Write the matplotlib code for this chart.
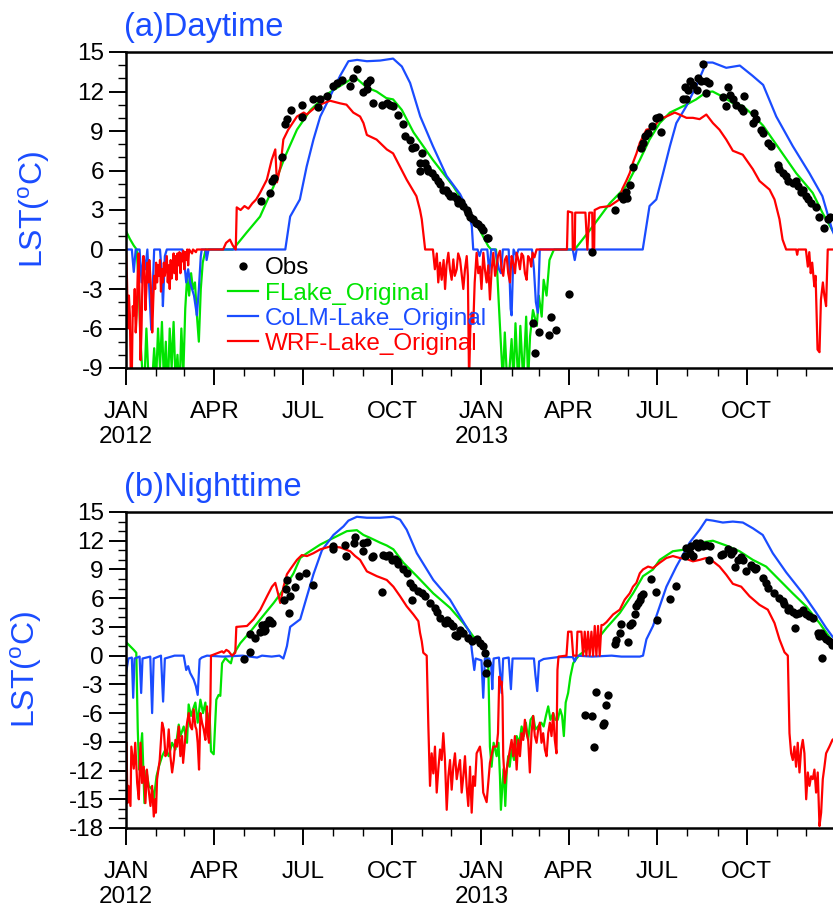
import numpy as np
import matplotlib
matplotlib.use("Agg")
import matplotlib.pyplot as plt
from matplotlib.lines import Line2D

# ---- data: (day since 2012-01-01, LST in degC) ----

# (a) daytime
flake_day = [(0, 1.4), (4, 0.8), (8, 0.3), (11, 0), (13, -2.5), (15, -7), (17, -9.5), (19, -10), (21, -6),
             (23, -9.5), (25, -11), (27, -10), (29, -7.5), (31, -10), (33, -6), (35, -9), (37, -5.5), (39, -10),
             (41, -7), (43, -11), (45, -6), (47, -9), (49, -5.5), (51, -10), (53, -8), (55, -11), (57, -6),
             (59, -9.5), (61, -4.5), (63, -2), (65, -3.5), (67, -1.8), (69, -3), (71, -2.5), (73, -5), (75, -7),
             (77, -3), (79, -1), (82, 0), (110, 0), (124, 1.27), (138, 2.5), (152, 4.8), (164, 7.1), (176, 9.1),
             (190, 10.6), (207, 11.8), (220, 12.4), (231, 12.9), (238, 12.95), (248, 12.3), (258, 12.0),
             (268, 11.5), (275, 11.4), (284, 10.6), (296, 8.9), (316, 6.8), (337, 4.8), (354, 2.8), (364, 1.5),
             (373, 0.25), (376, 0), (381, 0), (385, -5.8), (388, -10), (390, -6.3), (393, -11), (397, -6.8),
             (399, -10), (401, -5.6), (404, -10.5), (406, -5.8), (409, -10), (412, -5.1), (414, -10), (416, -6.6),
             (419, -4.6), (423, -5.8), (425, -3.5), (428, -5.1), (430, -2.3), (433, -3.5), (436, -0.8), (440, -0.1),
             (441, 0), (462, 0), (481, 1.8), (498, 3.5), (515, 4.8), (529, 6.8), (539, 8.35), (549.5, 9.6),
             (560, 10.4), (577, 11.0), (587, 11.4), (597.5, 11.95), (604, 12.0), (614.5, 11.6), (625, 11.1),
             (635, 10.9), (645, 10.25), (656, 9.4), (673, 7.6), (690, 5.8), (707, 4.3), (717, 2.8), (727, 1.5),
             (731, 1.1)]

colm_day = [(0, 0), (6, 0), (8, -1.7), (10, 0), (14, 0), (16, -2.5), (18, -0.5), (20, -1.5), (22, 0), (24, -3),
            (26, -6.1), (27, -4), (29, 0), (35, 0), (37, -2), (38, -4.3), (40, -0.5), (42, 0), (58, 0), (60, -1),
            (62, -2.5), (64, -1.5), (66, -2.5), (68, -3), (70, -3.5), (72, -4.5), (73, -5), (75, -3), (77, -0.5),
            (78, 0), (82, 0), (83, -0.8), (85, 0), (164, 0), (169, 2.5), (179, 3.8), (186, 6.3), (193, 8.35),
            (200, 10.1), (210, 11.6), (220.5, 13.2), (229, 14.3), (238, 14.4), (248, 14.3), (261.6, 14.35),
            (275, 14.5), (284, 13.9), (292.5, 12.65), (303, 10.1), (316, 7.85), (330, 5.6), (344, 4.2), (352, 3.0),
            (356, 1.8), (357.5, 0), (362, 0), (364, -0.5), (366, 0), (372, 0), (374, -1.8), (376, 0), (380, 0),
            (384, -1.5), (386, -1.8), (388, 0), (394, 0), (396, -4.5), (397, -5), (399, 0), (402, -0.5), (404, 0),
            (418, 0), (420, -1.5), (422, -4), (424, -4.8), (426, 0), (460, 0), (462, -0.8), (464, 0), (532, 0),
            (539, 3.3), (546, 3.8), (553, 5.8), (560, 7.85), (566.6, 9.6), (577, 10.9), (587, 12.4), (597.5, 14.2),
            (604, 14.2), (618, 13.8), (632, 13.97), (645, 13.2), (656, 12.5), (669.5, 10.1), (686.5, 7.85),
            (703.6, 5.8), (717, 4.05), (727, 1.5), (731, 0.8)]

wrf_day = [(0, 0), (1, -2.3), (2, -6), (3, -3.5), (4, -5), (5, -10), (6, -9.5), (7, -4.3), (8, -5), (9, -3),
           (10, -6.3), (11, -5), (12, -2), (13, -0.3), (14, -4), (15, -8.4), (16, -6), (17, -2), (18, -0.5),
           (19, -1.5), (20, -4.6), (21, -3), (22, -1), (23, -2.5), (24, -0.8), (25, -2), (26, -3.5), (27, -6.3),
           (28, -4), (29, -2), (30, -3), (31, -1), (32, -2.5), (33, -1.2), (34, -2), (35, -0.8), (36, -3.2),
           (37, -1.5), (38, -2.5), (39, -1), (40, -2), (42, -0.5), (43, -2.5), (44, -1.2), (45, -3), (46, -0.8),
           (47, -2.2), (48, -1.5), (49, -0.3), (50, -1.8), (51, -0.5), (52, -2.3), (53, -0.3), (54, -1.2),
           (55, -0.2), (56, -1.8), (57, -0.3), (58, -0.9), (59, -0.1), (60, -1.5), (61, -0.2), (62, -0.8), (63, 0),
           (64, -1.2), (65, 0), (68, -0.3), (69, 0), (72, -0.2), (73, 0), (100, 0), (103, 0.5), (107, 0.75),
           (110, 0.3), (113, 0), (114, 3.2), (118, 3.0), (122, 3.3), (126, 3.1), (130, 3.5), (134, 3.8), (138, 4.3),
           (145, 5.3), (150, 6.8), (153.7, 7.6), (155.4, 5.1), (159, 6.3), (162, 8.35), (167, 9.1), (176, 10.1),
           (183, 10.4), (186, 10.25), (196.5, 10.9), (203, 11.1), (210, 11.3), (220.5, 11.1), (227, 11.0),
           (234, 10.4), (241, 10.1), (244.5, 9.6), (248, 8.7), (258, 8.35), (268.5, 7.6), (275, 7.3), (282, 6.3),
           (289, 5.3), (299, 4.05), (302.7, 3.0), (304.5, 2.3), (306, 1.3), (308, 0), (316, 0), (318, -1.5),
           (320, -0.3), (321.5, -2.5), (323.3, -1.0), (325, -2.3), (327, -0.8), (328.5, -3.0), (330, -1.2),
           (331.9, -0.25), (333.5, -1.5), (335.3, -2.3), (337, -0.75), (338.5, -2.0), (340.5, -1.5), (342, -0.3),
           (343.9, -0.75), (345.5, -1.8), (347.3, -3.0), (349, -1.5), (350.8, -0.5), (352, -2), (353.2, -10),
           (354.5, -6), (355.9, -4.8), (357.6, -5.6), (359, -2.5), (361, -0.25), (362.7, -1.8), (364.5, -1.3),
           (366, -3), (367.9, -0.25), (369.5, -1.5), (371.3, -2.5), (373, -1.2), (374.7, -3.8), (376.5, -1.5),
           (378.2, -0.25), (380, -2), (381.6, -1.3), (383, -0.5), (385, -0.1), (386.7, -1.5), (388.4, -2.0),
           (390, -0.8), (391.9, -0.5), (393.5, -1.8), (395.3, -2.5), (397, -0.5), (398.7, -1.0), (400.5, -1.8),
           (402.2, -0.25), (404, -0.8), (405.6, -1.5), (407.3, -0.3), (409, -0.5), (410.7, -1.8), (412.5, -2.3),
           (414, -0.5), (415.9, -0.75), (417.2, -1.3), (418.6, -0.25), (420.5, -0.6), (422.7, 0), (454, 0),
           (455, 2.9), (459.5, 2.8), (460, 0), (462, 0), (462.5, 2.8), (473, 2.8), (475, 0), (477, 2.8), (480, 2.8),
           (480.5, 0), (482, 0), (482.5, 3.0), (488, 3.2), (498, 3.3), (508, 3.8), (511, 4.6), (515, 5.2),
           (518.6, 5.8), (522, 6.6), (525.6, 7.3), (529, 8.1), (535.8, 9.1), (542.6, 9.2), (549.5, 9.9),
           (556.4, 10.1), (565, 10.4), (569.8, 10.25), (577, 10.0), (583.7, 10.0), (590.6, 9.9), (597.5, 10.25),
           (604.3, 9.6), (611, 9.1), (618, 8.35), (624.8, 7.5), (635, 7.2), (645.4, 6.1), (652.3, 5.2),
           (662.6, 4.55), (667.7, 3.8), (672.8, 2.3), (676, 0.75), (679.7, 0), (690, 0), (691, -0.4), (692, 0),
           (700, 0), (702, -1.3), (703.5, -0.2), (705, -1.8), (706.5, -1.0), (708.7, -2.8), (710, -2.0),
           (712, -7.6), (714, -7.8), (715.5, -3.8), (717.5, -2.5), (719, -3.5), (720.8, -4.3), (722.5, 0), (731, 0)]

obs_day = [(139, 3.7), (148.5, 4.3), (150, 5.2), (152, 5.4), (160.5, 7.0), (164, 9.5), (165.7, 9.9), (169.8, 10.6),
           (181, 11.0), (181, 10.1), (193, 11.4), (198, 10.8), (200, 11.4), (207, 11.65), (213.6, 12.4),
           (217, 12.65), (222.3, 12.9), (230.8, 12.4), (234.2, 13.0), (237.7, 13.7), (244.5, 12.0), (248, 12.2),
           (248, 12.65), (251.3, 12.9), (254.7, 11.1), (263.3, 11.0), (268.5, 11.1), (272, 11.0), (275.3, 10.9),
           (280.5, 10.25), (285, 9.5), (287.3, 8.6), (292.5, 8.35), (294.2, 7.7), (297.6, 7.8), (302.7, 6.6),
           (304.5, 7.3), (302.7, 5.95), (308, 6.6), (309.6, 6.2), (311, 6.0), (314.7, 5.8), (318, 5.5),
           (321.6, 5.2), (323.3, 5.0), (326.7, 4.55), (329, 4.5), (331.8, 4.3), (334, 4.1), (337, 4.05),
           (340.5, 3.8), (342.2, 3.5), (345, 3.6), (347.3, 3.3), (350.7, 3.0), (352, 2.8), (354.2, 2.5),
           (357.6, 2.3), (360, 2.0), (362.7, 1.9), (365, 1.7), (367.8, 1.5), (371.3, 0.9), (373, 0.9),
           (418.6, -5.6), (421.3, -7.85), (425, -6.3), (435.4, -6.5), (437.4, -5.1), (442.5, -6.1), (456, -3.4),
           (480, -0.2), (503.2, 3.0), (510, 4.05), (511.8, 3.8), (516.2, 3.9), (515.3, 4.4), (518.6, 4.9),
           (522, 6.3), (530.6, 7.7), (532.3, 8.1), (534, 8.6), (537.5, 8.85), (542, 9.4), (546, 10.0), (549, 10.1),
           (551.2, 8.9), (573.4, 11.4), (576.8, 11.4), (576, 12.35), (578.5, 12.1), (580.3, 12.8), (583.7, 12.5),
           (587.8, 12.15), (588.8, 13.0), (592.2, 12.8), (593.9, 14.1), (597.3, 12.8), (600.7, 12.65),
           (597.3, 11.9), (614.5, 11.6), (618, 10.9), (619.7, 12.35), (621.4, 11.75), (624.8, 11.4), (628.3, 11.0),
           (633.4, 10.75), (635.1, 10.5), (635.8, 11.65), (647, 10.4), (645.4, 9.6), (648.8, 9.9), (653.9, 9.1),
           (655.6, 8.85), (660.7, 8.1), (664, 7.85), (671, 6.45), (672.8, 6.1), (676.2, 5.8), (679.6, 5.6),
           (681.3, 5.2), (686.5, 5.05), (689.9, 5.2), (691.6, 4.8), (695, 4.4), (696.7, 4.55), (700.2, 4.05),
           (701.9, 3.8), (705.3, 3.5), (710.4, 3.2), (713.8, 2.5), (719, 1.65), (722.5, 2.3), (724.9, 2.5)]

# (b) nighttime
flake_night = [(0, 1.4), (1.2, 1.3), (8, 0.6), (10.6, 0.3), (12.1, -7.7), (13.5, -11.9), (16.6, -8.1),
               (19, -15.4), (21, -12), (23.5, -13.6), (27, -14), (28.6, -15), (31.4, -12.6), (33.8, -11.6),
               (37.2, -10.5), (40.6, -9.8), (44, -10.5), (47.4, -9.1), (50.9, -9.8), (54.3, -7.2), (56, -8.4),
               (59.4, -7.4), (62.8, -9.1), (64.5, -5.1), (66.9, -6.3), (69, -5.6), (71.4, -4.9), (73.8, -7.0),
               (76.6, -4.6), (79.3, -6.0), (81.7, -4.9), (84, -7.4), (86, -6.0), (87.5, -10), (90.3, -10.3),
               (92, -6.7), (93, -4.6), (95.4, -4.1), (97.1, -4.2), (98.9, -0.8), (102.3, -0.25), (105.7, -0.6),
               (108, -0.8), (109.8, 0), (117.7, 1.3), (128, 2.5), (138.3, 3.8), (152, 5.5), (162.2, 6.9),
               (172.5, 8.6), (179.4, 10.2), (186.3, 10.7), (200, 11.6), (213.6, 12.3), (227.4, 13.0),
               (237.7, 13.1), (244.5, 12.6), (251.3, 12.3), (261.6, 11.8), (268.5, 11.5), (275.3, 11.1),
               (285.6, 9.7), (299.4, 8.3), (316.4, 6.5), (333.6, 5.0), (347.3, 3.4), (357.6, 2.0), (367.8, 1.0),
               (371.3, 0.35), (373, -1.1), (374.7, -9.5), (376.4, -11.6), (378.5, -9.1), (381.6, -10.5),
               (383.5, -9.1), (385, -12.6), (386, -16.1), (387.7, -13.3), (389, -11.8), (390.5, -15.7), (392, -12),
               (393.5, -10.5), (395, -11.6), (397, -9.8), (399.5, -10.9), (402.2, -8.4), (405, -9.1),
               (407.3, -7.4), (409.5, -8.4), (411.7, -7.0), (414, -8.8), (416.5, -6.7), (419.2, -6.3),
               (421.5, -7.7), (424.3, -7.4), (427.5, -7.0), (430, -7.4), (432.3, -6.3), (434.7, -5.3), (437, -6.7),
               (439.8, -6.0), (442, -6.7), (444.5, -6.7), (447, -5.6), (449, -6.3), (450.8, -8.4), (452.7, -4.9),
               (455.2, -3.9), (457.5, -2.2), (460.4, -0.8), (463.8, -0.3), (467.2, 0.1), (481, 1.15),
               (494.7, 2.9), (508.4, 4.45), (522, 6.5), (532.3, 8.3), (542.6, 9.0), (549.5, 10.0), (563, 10.9),
               (577, 11.1), (590.6, 11.8), (604.3, 12.0), (618, 11.5), (631.7, 10.9), (645.4, 10.0), (659.1, 9.3),
               (672.8, 7.9), (686.5, 6.5), (700.3, 5.15), (714, 3.4), (727.3, 1.5), (731, 1.0)]

colm_night = [(0, -1.8), (2.5, -0.3), (6, -0.2), (7.4, -4.4), (8.8, -0.3), (14, -0.1), (15.6, -3.9), (17, -0.3),
              (25, -0.1), (26.9, -6.0), (28.5, -0.3), (36, 0), (38.2, -4.8), (40, -0.3), (50, 0), (59.4, 0),
              (62, -1.5), (64, -1.1), (66, -1.8), (69.7, -2.5), (72, -3.2), (73.8, -4.1), (75.8, -0.4), (78, -0.2),
              (83.4, 0), (100, -0.1), (120, 0), (135, -0.2), (140, 0), (150, -0.1), (158, 0), (162, -0.3),
              (163.5, 0.2), (165.7, 1.0), (169, 3.0), (179.4, 3.8), (186.3, 6.2), (193, 8.5), (201.7, 11.0),
              (213.6, 12.6), (223.9, 13.5), (229, 14.1), (237.7, 14.5), (248, 14.4), (261.6, 14.4), (275.3, 14.5),
              (282.2, 14.2), (289, 13.15), (299.4, 10.7), (316.4, 7.9), (333.6, 5.85), (343.9, 4.1), (354.2, 2.4),
              (356, 0.6), (358.6, -1.5), (360, -0.3), (366, -0.5), (367.8, -4.4), (369.5, -0.3), (374, -0.3),
              (376, -1), (377.1, -3.5), (378.5, -0.3), (384, -0.2), (386.7, -3.9), (388.3, -0.3), (394, -0.2),
              (396.3, -3.5), (398, -0.3), (420, -0.3), (421.5, -2.0), (423.4, -3.7), (425.3, -0.6), (430, -0.35),
              (445, -0.15), (460, -0.15), (462, -0.6), (464, 0), (480, -0.1), (500, 0), (510, -0.1), (529, -0.1),
              (532.3, 0), (535.8, 1.7), (542.6, 3.1), (549.5, 5.15), (556.4, 7.2), (566.6, 9.3), (580.3, 11.8),
              (590.6, 13.15), (597.5, 14.2), (604.3, 14.1), (614.5, 13.9), (624.8, 14.0), (635.1, 13.9),
              (645.4, 13.3), (655.6, 12.6), (665.9, 10.7), (679.7, 8.7), (696.8, 6.5), (710.5, 4.5), (720.8, 2.9),
              (727.3, 2.0), (731, 1.6)]

wrf_night = [(0.5, -9.1), (1.5, -15.4), (2.5, -13.6), (4.6, -15.7), (5.5, -9.5), (8, -11.8), (9.5, -9.1),
             (11.5, -13.3), (13.2, -15.0), (14.9, -9.1), (16.5, -13.3), (18.3, -11.6), (20, -15.4), (21.5, -11.9),
             (23.3, -14), (25.2, -15.7), (26.9, -13.6), (28.6, -16.8), (30, -15), (30.8, -16.4), (32, -12.9),
             (34.7, -10.9), (37.2, -7.0), (38.9, -7.7), (40.6, -10.5), (42.3, -10.2), (44, -7.7), (45.7, -10.5),
             (47.5, -12.2), (49.2, -10.9), (50.9, -8.8), (52.6, -9.5), (54.3, -7.4), (56, -10.5), (57.7, -8.4),
             (58.8, -11.2), (61.2, -8.4), (62.9, -7.0), (64.6, -6.0), (66.3, -7.4), (68, -7.7), (69.7, -5.6),
             (71.4, -7.4), (72.5, -7.7), (73.8, -9.1), (75.2, -11.9), (76.6, -6.0), (78.3, -7.0), (80, -7.7),
             (81.7, -8.8), (83.4, -5.3), (84.5, -8.4), (85.5, -9.1), (86.9, -4.9), (87.5, 0), (98.9, 0.45),
             (100.6, 0.3), (103.3, 0.6), (105.7, 0.45), (109.1, 0), (112.5, 0.3), (113.6, 3.0), (124.6, 3.1),
             (131.4, 3.8), (138.3, 4.8), (145.2, 6.2), (150.3, 7.2), (153.7, 7.6), (156.5, 6.5), (158.8, 5.5),
             (162.2, 7.2), (165.7, 8.5), (169, 9.0), (176, 10.0), (181, 10.5), (186.3, 10.4), (193, 10.7),
             (200, 11.1), (210.2, 11.4), (220.5, 11.3), (230.8, 10.9), (235.9, 10.4), (241, 10.0), (248, 8.8),
             (258.2, 8.3), (268.5, 7.9), (275.3, 7.2), (282.2, 6.2), (289, 5.15), (295.9, 4.3), (301, 3.6),
             (302.7, 2.4), (304.5, 1.5), (306.1, 0.3), (309.6, 0), (311.3, -7.4), (313, -13.6), (314.7, -10.2),
             (316.4, -12.3), (318.1, -9.5), (319.9, -14.3), (321.6, -11.8), (323.3, -9.8), (325, -10.9),
             (326.7, -8.1), (328.4, -10.9), (330.2, -16.1), (331.9, -12.6), (333.6, -10.9), (335.3, -14.0),
             (337, -11.6), (338.7, -10.2), (340.5, -12.9), (342.2, -11.8), (343.9, -10.9), (345.6, -14.3),
             (347.3, -12.6), (349, -10.5), (350.7, -13.6), (352.4, -15.7), (354.2, -11.6), (355.9, -16.4),
             (357.6, -12.6), (359.3, -13.6), (361, -10.2), (364.4, -9.5), (366.1, -10.9), (367.8, -14.3),
             (371.3, -15.3), (374.7, -11.2), (378.2, -9.5), (381.6, -9.5), (383, -8.1), (384.3, -2.2),
             (385.5, -3.0), (386.7, -2.7), (387.6, -4.3), (388.4, -10.5), (390, -13.3), (391.9, -11.9),
             (393.5, -10.9), (395.3, -9.8), (397, -8.8), (398.7, -10.5), (400.4, -8.4), (402.2, -11.9),
             (403.9, -8.8), (405.6, -10.5), (407.3, -8.1), (409, -8.8), (410.7, -6.7), (412.4, -8.1),
             (414.1, -8.8), (415.8, -12.2), (417.5, -8.1), (419.2, -6.3), (420.9, -8.4), (422.7, -9.1),
             (424.4, -7.7), (426.1, -7.0), (427.8, -9.1), (429.5, -8.1), (431.3, -9.8), (433, -10.5),
             (434.7, -8.1), (436.4, -7.0), (438.1, -8.4), (439.8, -6.0), (441.5, -8.8), (443.2, -10.2),
             (444.2, -1.5), (445.3, -0.1), (453.5, 0), (455.2, 2.5), (458.6, 2.5), (460.4, 0), (463.8, 0),
             (464.8, 2.5), (468.9, 2.5), (470.6, 0), (472.3, 2.5), (474, 0), (475.7, 2.5), (477.4, 0),
             (479.2, 2.5), (480.9, 0), (482.6, 3.1), (484.3, 0), (486, 3.1), (487.7, 0), (489.5, 3.2),
             (491.2, 3.2), (494.7, 3.5), (501.5, 4.3), (508.4, 4.8), (513.5, 5.85), (518.6, 6.5), (522, 7.2),
             (525.5, 7.6), (529, 8.6), (532.3, 9.0), (537.5, 9.3), (542.6, 9.15), (549.5, 9.7), (556.4, 10.2),
             (563.1, 10.4), (570, 10.2), (577, 10.1), (583.7, 9.85), (590.6, 10.0), (597.5, 10.2), (604.3, 9.85),
             (611.1, 9.3), (618, 8.45), (624.8, 7.5), (633.4, 7.2), (642, 6.2), (652.3, 5.3), (660.8, 4.8),
             (667.7, 3.4), (672.8, 1.7), (678, 0.35), (681.4, 0), (683.1, -8.1), (684.8, -10.2), (686.5, -10.9),
             (688.2, -9.5), (689.9, -11.6), (691.6, -9.1), (693.4, -12.2), (695.1, -9.8), (696.8, -8.8),
             (698.5, -10.2), (700.3, -15.0), (702, -12.2), (703.7, -13.6), (705.4, -12.6), (707.1, -12.9),
             (708.8, -11.9), (710.5, -14.3), (712.2, -12.2), (714, -17.8), (715.7, -16.4), (717.4, -12.9),
             (719.1, -11.6), (720.8, -10.2), (724.2, -9.5), (727.3, -8.8), (731, -8.5)]

obs_night = [(121, -0.35), (127.5, 0.35), (128, 2.3), (133, 1.85), (137.5, 2.5), (140, 3.2), (143, 2.7),
             (144.5, 3.3), (146.8, 3.75), (148.5, 3.6), (150, 3.4), (142, 2.6), (163, 5.85), (165, 7.0),
             (166, 7.9), (167.4, 4.5), (169.1, 6.2), (174.2, 7.2), (178.4, 8.3), (185.2, 8.6), (192.4, 7.4),
             (213.6, 11.1), (213.6, 11.4), (226.7, 10.4), (225, 11.6), (235.9, 12.35), (234.9, 11.8),
             (244.5, 10.9), (244.5, 11.8), (248, 11.9), (253, 10.3), (254.7, 10.4), (263.3, 6.6), (265, 10.5),
             (267.7, 10.4), (271.2, 10.5), (273.5, 10.0), (277, 10.1), (278.8, 9.85), (280.5, 9.6), (285.6, 9.0),
             (289, 8.6), (292.5, 7.6), (296, 7.2), (294.2, 5.85), (301, 6.7), (304.5, 6.5), (307.9, 6.2),
             (313, 5.5), (318, 5.0), (319.9, 4.6), (323.3, 3.9), (328.4, 3.4), (330, 3.7), (333.6, 3.4),
             (337, 3.1), (338.7, 2.2), (340.5, 2.0), (343.9, 2.7), (347.3, 2.4), (352.4, 1.85), (355.9, 1.5),
             (361, 1.7), (364.4, 1.3), (367.8, 1.0), (369.6, 0.3), (371.3, -0.75), (370.5, -1.8),
             (472.4, -6.2), (479.3, -6.3), (481.6, -9.5), (484.4, -3.8), (491.2, -7.2), (492.2, -7.0),
             (494.7, -5.2), (496.3, -4.1), (503.2, 1.2), (505, 1.6), (508.4, 2.4), (510, 3.3), (516.9, 1.4),
             (519.3, 3.2), (520.5, 3.4), (523.8, 4.3), (525.5, 5.15), (527.2, 5.5), (529, 5.85), (530.6, 6.2),
             (532.3, 6.4), (541, 8.0), (545.3, 6.6), (546.7, 3.7), (559.8, 5.95), (566.6, 7.3), (575.2, 10.4),
             (576.8, 11.2), (580.3, 10.7), (582, 11.4), (583.7, 10.4), (587.2, 11.8), (588.8, 11.3),
             (590.6, 11.8), (594, 11.4), (597.5, 11.6), (600.2, 10.0), (601.5, 11.5), (612.8, 10.5),
             (614.5, 10.6), (619.7, 11.1), (623, 10.6), (624.8, 10.9), (626.6, 9.25), (630, 10.0), (633.4, 10.3),
             (635.1, 10.0), (638.6, 8.8), (643.7, 9.5), (645.4, 9.3), (647.1, 9.0), (648.8, 9.15), (655.6, 8.1),
             (659.1, 7.6), (660.8, 7.1), (666.7, 6.5), (672.8, 6.0), (676.2, 5.7), (677.9, 5.4), (681.4, 4.8),
             (683.1, 4.95), (686.5, 4.6), (688.3, 2.9), (689.9, 4.3), (693.4, 4.45), (696.8, 4.8), (700.3, 4.3),
             (703.7, 4.1), (707.1, 3.9), (712.2, 2.4), (713.9, 2.0), (715.6, 2.4), (717.3, 2.0), (716.7, -0.2),
             (720.8, 1.7), (724.2, 1.5), (727.3, 1.15)]

month_lbl = ['JAN\n2012', 'APR', 'JUL', 'OCT', 'JAN\n2013', 'APR', 'JUL', 'OCT']

GREEN = '#00e400'
BLUE = '#1a4cff'
RED = '#ff0000'

plt.rcParams['font.family'] = ['Liberation Sans', 'DejaVu Sans']
plt.rcParams['axes.unicode_minus'] = False
plt.rcParams['mathtext.fontset'] = 'custom'
plt.rcParams['mathtext.rm'] = 'Liberation Sans'


def month_days():
    months = np.arange('2012-01', '2014-01', dtype='datetime64[M]')
    return (months.astype('datetime64[D]') - np.datetime64('2012-01-01')).astype(int)


def draw_panel(ax, flake, colm, wrf, obs, ylo, title):
    for series, color in ((flake, GREEN), (colm, BLUE), (wrf, RED)):
        d, v = np.array(series).T
        ax.plot(d, v, color=color, lw=1.6, zorder=2)
    d, v = np.array(obs).T
    ax.plot(d, v, 'o', color='black', ms=6, mec='none', zorder=3)

    ax.set_xlim(0, 731)
    ax.set_ylim(ylo, 15)
    mdays = month_days()
    ax.set_xticks(mdays[::3])
    ax.set_xticklabels(month_lbl, linespacing=1.15)
    ax.set_xticks(mdays, minor=True)
    ax.set_yticks(np.arange(ylo, 16, 3))
    ax.set_yticks(np.arange(ylo, 16, 1), minor=True)
    ax.tick_params(which='major', direction='out', length=12, width=1.4, labelsize=17.5, pad=4)
    ax.tick_params(which='minor', direction='out', length=6, width=1.0)
    ax.tick_params(axis='x', which='major', pad=12)
    for sp in ax.spines.values():
        sp.set_linewidth(1.8)
    ax.text(-0.003, 1.03, title, transform=ax.transAxes, fontsize=23.5, color=BLUE, va='bottom', ha='left')


fig = plt.figure(figsize=(8.33, 9.11), dpi=100)
ax1 = fig.add_axes([126 / 833, 1 - 368 / 911, 710 / 833, 316 / 911])
ax2 = fig.add_axes([126 / 833, 1 - 828 / 911, 710 / 833, 316 / 911])

draw_panel(ax1, flake_day, colm_day, wrf_day, obs_day, -9, '(a)Daytime')
draw_panel(ax2, flake_night, colm_night, wrf_night, obs_night, -18, '(b)Nighttime')

for ax in (ax1, ax2):
    ax.set_ylabel('LST($^{\\mathrm{o}}$C)', fontsize=23, color=BLUE, labelpad=18)

handles = [Line2D([], [], ls='none', marker='o', color='black', ms=6, mec='none'),
           Line2D([], [], color=GREEN, lw=1.6),
           Line2D([], [], color=BLUE, lw=1.6),
           Line2D([], [], color=RED, lw=1.6)]
leg = ax1.legend(handles, ['Obs', 'FLake_Original', 'CoLM-Lake_Original', 'WRF-Lake_Original'],
                 loc='upper left', bbox_to_anchor=(0.143, 0.35), frameon=False, fontsize=17.5,
                 handlelength=1.25, handletextpad=0.3, labelspacing=0.13, borderpad=0, borderaxespad=0)
for txt, c in zip(leg.get_texts(), ['black', GREEN, BLUE, RED]):
    txt.set_color(c)

fig.savefig('out.png', dpi=100)
